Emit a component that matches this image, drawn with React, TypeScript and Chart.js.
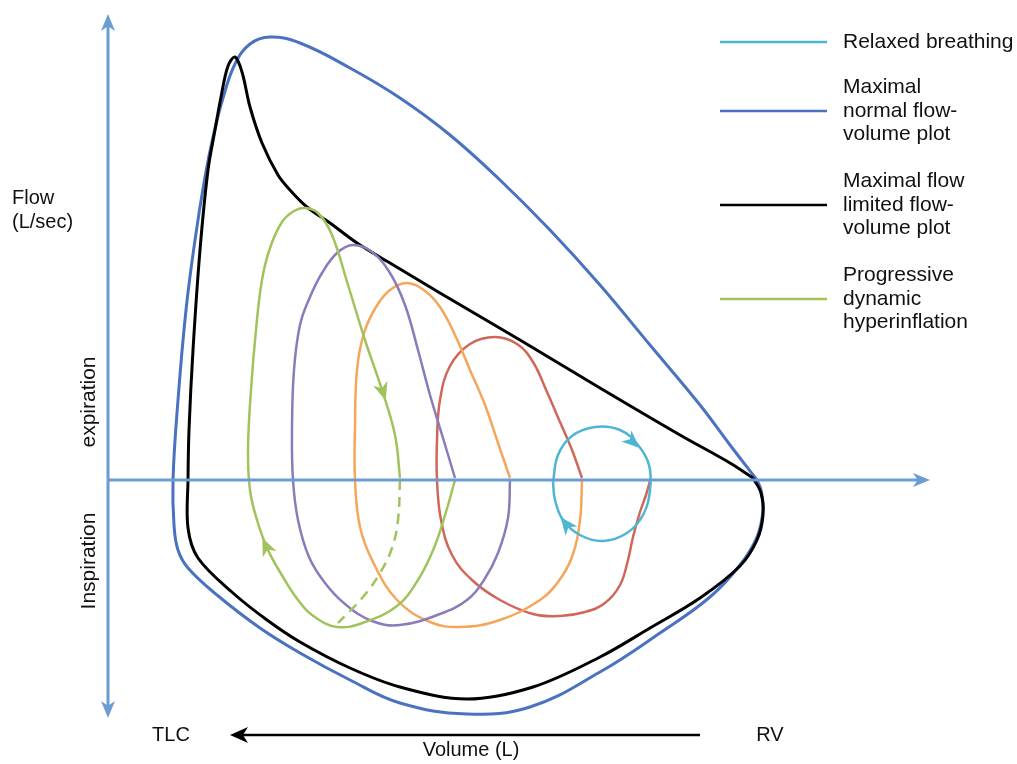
import React, { useEffect, useRef } from "react";
import { Chart, registerables } from "chart.js";
Chart.register(...registerables);

// ---- Data (volume units along x, flow units along y; 0 flow = volume axis) ----
const normalVolume = [6.49, 6.22, 5.92, 5.42, 4.92, 4.42, 3.92, 3.42, 2.92, 2.42, 1.92, 1.62, 1.42, 1.27, 1.15, 1.05, 0.97, 0.87, 0.78, 0.70, 0.65, 0.66, 0.70, 0.80, 1.09, 1.52, 1.92, 2.42, 2.92, 3.59, 4.22, 4.92, 5.52, 6.02, 6.32, 6.49, 6.55, 6.53, 6.49];
const normalFlow = [0, 0.35, 0.75, 1.35, 1.95, 2.5, 3.0, 3.45, 3.82, 4.12, 4.37, 4.43, 4.36, 4.16, 3.82, 3.43, 3.03, 2.4, 1.7, 0.8, 0, -0.45, -0.7, -0.88, -1.15, -1.48, -1.73, -2.0, -2.23, -2.34, -2.27, -1.92, -1.53, -1.17, -0.85, -0.57, -0.3, -0.1, 0];

const limitedVolume = [6.45, 6.22, 5.72, 4.92, 4.12, 3.32, 2.82, 2.49, 2.22, 1.99, 1.82, 1.70, 1.54, 1.42, 1.34, 1.27, 1.20, 1.13, 1.07, 1.00, 0.92, 0.85, 0.81, 0.80, 0.80, 0.90, 1.25, 1.59, 1.92, 2.42, 2.92, 3.59, 4.25, 4.92, 5.42, 5.92, 6.32, 6.49, 6.55, 6.53, 6.45];
const limitedFlow = [0.02, 0.17, 0.45, 0.92, 1.4, 1.87, 2.17, 2.37, 2.57, 2.73, 2.9, 3.05, 3.37, 3.73, 4.08, 4.23, 4.14, 3.83, 3.5, 3.1, 2.3, 1.3, 0.5, 0, -0.48, -0.78, -1.13, -1.4, -1.62, -1.88, -2.07, -2.19, -2.07, -1.77, -1.48, -1.18, -0.86, -0.6, -0.35, -0.13, 0.02];

const relaxedVolume = [4.45, 4.50, 4.64, 4.87, 5.12, 5.30, 5.41, 5.42, 5.35, 5.19, 4.95, 4.72, 4.55, 4.47, 4.45];
const relaxedFlow = [-0.02, 0.25, 0.44, 0.53, 0.5, 0.35, 0.15, -0.1, -0.35, -0.53, -0.61, -0.55, -0.4, -0.2, -0.02];

const breath1Volume = [5.42, 5.38, 5.32, 5.25, 5.20, 5.12, 4.97, 4.77, 4.52, 4.25, 3.92, 3.64, 3.44, 3.33, 3.29, 3.29, 3.32, 3.42, 3.62, 3.87, 4.09, 4.25, 4.39, 4.52, 4.64, 4.74];
const breath1Flow = [-0.01, -0.15, -0.32, -0.57, -0.8, -1.05, -1.23, -1.32, -1.36, -1.34, -1.2, -1.0, -0.75, -0.4, 0, 0.4, 0.8, 1.14, 1.36, 1.43, 1.36, 1.18, 0.88, 0.58, 0.3, 0.02];

const breath2Volume = [4.74, 4.72, 4.64, 4.50, 4.32, 3.92, 3.52, 3.22, 2.89, 2.65, 2.52, 2.47, 2.47, 2.49, 2.56, 2.68, 2.82, 2.99, 3.17, 3.32, 3.47, 3.62, 3.77, 3.90, 4.02];
const breath2Flow = [0, -0.4, -0.77, -1.02, -1.2, -1.4, -1.47, -1.42, -1.2, -0.82, -0.47, 0, 0.53, 1.1, 1.47, 1.73, 1.9, 1.97, 1.89, 1.73, 1.45, 1.1, 0.75, 0.37, 0.02];

const breath3Volume = [4.02, 4.00, 3.90, 3.76, 3.59, 3.32, 2.92, 2.64, 2.37, 2.17, 2.01, 1.90, 1.85, 1.84, 1.86, 1.92, 2.02, 2.14, 2.29, 2.45, 2.64, 2.82, 2.97, 3.10, 3.22, 3.35, 3.47];
const breath3Flow = [0, -0.38, -0.73, -1.0, -1.2, -1.34, -1.45, -1.41, -1.24, -1.03, -0.77, -0.4, 0, 0.5, 1.1, 1.55, 1.83, 2.07, 2.27, 2.35, 2.28, 2.07, 1.75, 1.3, 0.85, 0.42, 0.02];

const breath4Volume = [3.47, 3.38, 3.26, 3.10, 2.89, 2.57, 2.29, 2.04, 1.90, 1.75, 1.60, 1.49, 1.42, 1.40, 1.43, 1.48, 1.54, 1.62, 1.74, 1.86, 1.97, 2.10, 2.24, 2.40, 2.57, 2.74, 2.87, 2.92];
const breath4Flow = [0, -0.32, -0.68, -1.0, -1.26, -1.42, -1.47, -1.35, -1.2, -0.97, -0.7, -0.4, -0.1, 0.3, 0.9, 1.5, 2.0, 2.32, 2.58, 2.69, 2.72, 2.67, 2.45, 1.95, 1.4, 0.9, 0.45, 0.02];

const nextBreathVolume = [2.92, 2.90, 2.84, 2.72, 2.55, 2.30];
const nextBreathFlow = [0, -0.4, -0.68, -0.93, -1.17, -1.43];

// direction arrows on the loops (centre position, heading in degrees: 0 = right, 90 = down)
const greenArrowVolume = [2.75, 1.58];
const greenArrowFlow = [0.88, -0.66];
const greenArrowHeading = [72, -114];
const cyanArrowVolume = [5.25, 4.58];
const cyanArrowFlow = [0.38, -0.44];
const cyanArrowHeading = [42, -128];

const legendLabels = [
  ["Relaxed breathing"],
  ["Maximal", "normal flow-", "volume plot"],
  ["Maximal flow", "limited flow-", "volume plot"],
  ["Progressive", "dynamic", "hyperinflation"],
];

const AXIS_FLOW_TOP = 4.66;
const AXIS_FLOW_BOTTOM = -2.38;
const AXIS_VOLUME_END = 8.22;
const VOLUME_ARROW_FROM = 5.92;
const VOLUME_ARROW_TO = 1.22;
const VOLUME_ARROW_FLOW = -2.55;

// ---- Styles ----
const C_AXIS = "#6b9dd3";
const C_BLUE = "#4a72c0";
const C_BLACK = "#000000";
const C_CYAN = "#4db6d3";
const C_GREEN = "#a0c35b";
const C_PURPLE = "#8c7bba";
const C_ORANGE = "#f5a65b";
const C_RED = "#d0675b";
const FONT = '"Liberation Sans", Arial, Helvetica, sans-serif';

const zip = (xs: number[], ys: number[]) => xs.map((v, i) => ({ x: v, y: ys[i] }));

function arrowHead(ctx: CanvasRenderingContext2D, tx: number, ty: number, ang: number, color: string, len = 17, half = 7) {
  const c = Math.cos(ang), s = Math.sin(ang);
  const px = -s, py = c;
  ctx.save();
  ctx.fillStyle = color;
  ctx.beginPath();
  ctx.moveTo(tx, ty);
  ctx.lineTo(tx - c * len + px * half, ty - s * len + py * half);
  ctx.lineTo(tx - c * len * 0.72, ty - s * len * 0.72);
  ctx.lineTo(tx - c * len - px * half, ty - s * len - py * half);
  ctx.closePath();
  ctx.fill();
  ctx.restore();
}

const overlayPlugin = {
  id: "overlay",
  afterDatasetsDraw(chart: any) {
    const { ctx, scales } = chart;
    const sx = scales.x, sy = scales.y;

    // loop direction arrows
    const drawSet = (xs: number[], ys: number[], hs: number[], color: string) => {
      xs.forEach((v, i) => {
        const a = (hs[i] * Math.PI) / 180;
        const cx = sx.getPixelForValue(v), cy = sy.getPixelForValue(ys[i]);
        const L = 18;
        arrowHead(ctx, cx + Math.cos(a) * L / 2, cy + Math.sin(a) * L / 2, a, color, L, 7.5);
      });
    };
    drawSet(greenArrowVolume, greenArrowFlow, greenArrowHeading, C_GREEN);
    drawSet(cyanArrowVolume, cyanArrowFlow, cyanArrowHeading, C_CYAN);

    const x0 = sx.getPixelForValue(0);
    const y0 = sy.getPixelForValue(0);
    const yTop = sy.getPixelForValue(AXIS_FLOW_TOP);
    const yBot = sy.getPixelForValue(AXIS_FLOW_BOTTOM);
    const xEnd = sx.getPixelForValue(AXIS_VOLUME_END);
    ctx.save();
    ctx.strokeStyle = C_AXIS;
    ctx.lineWidth = 3;
    ctx.lineCap = "butt";
    ctx.beginPath();
    ctx.moveTo(x0, yTop + 12);
    ctx.lineTo(x0, yBot - 12);
    ctx.moveTo(x0, y0);
    ctx.lineTo(xEnd - 12, y0);
    ctx.stroke();
    arrowHead(ctx, x0, yTop, -Math.PI / 2, C_AXIS);
    arrowHead(ctx, x0, yBot, Math.PI / 2, C_AXIS);
    arrowHead(ctx, xEnd, y0, 0, C_AXIS);

    // volume arrow
    const va = sx.getPixelForValue(VOLUME_ARROW_FROM);
    const vb = sx.getPixelForValue(VOLUME_ARROW_TO);
    const vy = sy.getPixelForValue(VOLUME_ARROW_FLOW);
    ctx.strokeStyle = "#000";
    ctx.lineWidth = 2.5;
    ctx.beginPath();
    ctx.moveTo(va, vy);
    ctx.lineTo(vb + 12, vy);
    ctx.stroke();
    arrowHead(ctx, vb, vy, Math.PI, "#000", 18, 8);

    // texts
    ctx.fillStyle = "#111";
    ctx.font = `20px ${FONT}`;
    ctx.textBaseline = "middle";
    ctx.textAlign = "left";
    ctx.fillText("Flow", 12, 198);
    ctx.fillText("(L/sec)", 12, 222);
    ctx.textAlign = "center";
    ctx.fillText("TLC", 171, vy);
    ctx.fillText("RV", 770, vy);
    ctx.fillText("Volume (L)", 471, 750);
    ctx.font = `21px ${FONT}`;
    ctx.save();
    ctx.translate(89, 402);
    ctx.rotate(-Math.PI / 2);
    ctx.fillText("expiration", 0, 0);
    ctx.restore();
    ctx.save();
    ctx.translate(89, 561);
    ctx.rotate(-Math.PI / 2);
    ctx.fillText("Inspiration", 0, 0);
    ctx.restore();

    // legend
    const legendColors = [C_CYAN, C_BLUE, C_BLACK, C_GREEN];
    const legendCenters = [42, 111, 205, 299];
    const lh = 23.5;
    legendLabels.forEach((lines, i) => {
      const cy = legendCenters[i];
      ctx.strokeStyle = legendColors[i];
      ctx.lineWidth = 2.5;
      ctx.beginPath();
      ctx.moveTo(720, cy);
      ctx.lineTo(827, cy);
      ctx.stroke();
      ctx.fillStyle = "#111";
      ctx.textAlign = "left";
      const start = cy - ((lines.length - 1) * lh) / 2;
      lines.forEach((t, k) => ctx.fillText(t, 843, start + k * lh));
    });
    ctx.restore();
  },
};

export default function App() {
  const ref = useRef<HTMLCanvasElement | null>(null);
  useEffect(() => {
    if (!ref.current) return;
    const line = (data: any, color: string, width: number, order: number, extra: any = {}) => ({
      data,
      borderColor: color,
      backgroundColor: color,
      borderWidth: width,
      showLine: true,
      pointRadius: 0,
      pointHoverRadius: 0,
      tension: 0.4,
      fill: false,
      order,
      ...extra,
    });
    const chart = new Chart(ref.current, {
      type: "scatter",
      data: {
        datasets: [
          line(zip(relaxedVolume, relaxedFlow), C_CYAN, 2.5, 1),
          line(zip(breath4Volume, breath4Flow), C_GREEN, 2.5, 2),
          line(zip(nextBreathVolume, nextBreathFlow), C_GREEN, 2.5, 2, { borderDash: [10, 7] }),
          line(zip(breath3Volume, breath3Flow), C_PURPLE, 2.5, 3),
          line(zip(breath2Volume, breath2Flow), C_ORANGE, 2.5, 4),
          line(zip(breath1Volume, breath1Flow), C_RED, 2.5, 5),
          line(zip(limitedVolume, limitedFlow), C_BLACK, 3, 6, { tension: 0.35 }),
          line(zip(normalVolume, normalFlow), C_BLUE, 3, 7),
        ],
      },
      options: {
        responsive: false,
        animation: false,
        events: [],
        layout: { padding: 0, autoPadding: false },
        plugins: { legend: { display: false }, tooltip: { enabled: false } },
        scales: {
          x: { type: "linear", min: -1.08, max: 9.09, display: false },
          y: { type: "linear", min: -2.84, max: 4.8, display: false },
        },
      },
      plugins: [overlayPlugin],
    });
    return () => chart.destroy();
  }, []);
  return (
    <div style={{ position: "absolute", left: 0, top: 0, width: 1017, height: 764, background: "#fff" }}>
      <canvas ref={ref} width={1017} height={764} />
    </div>
  );
}
